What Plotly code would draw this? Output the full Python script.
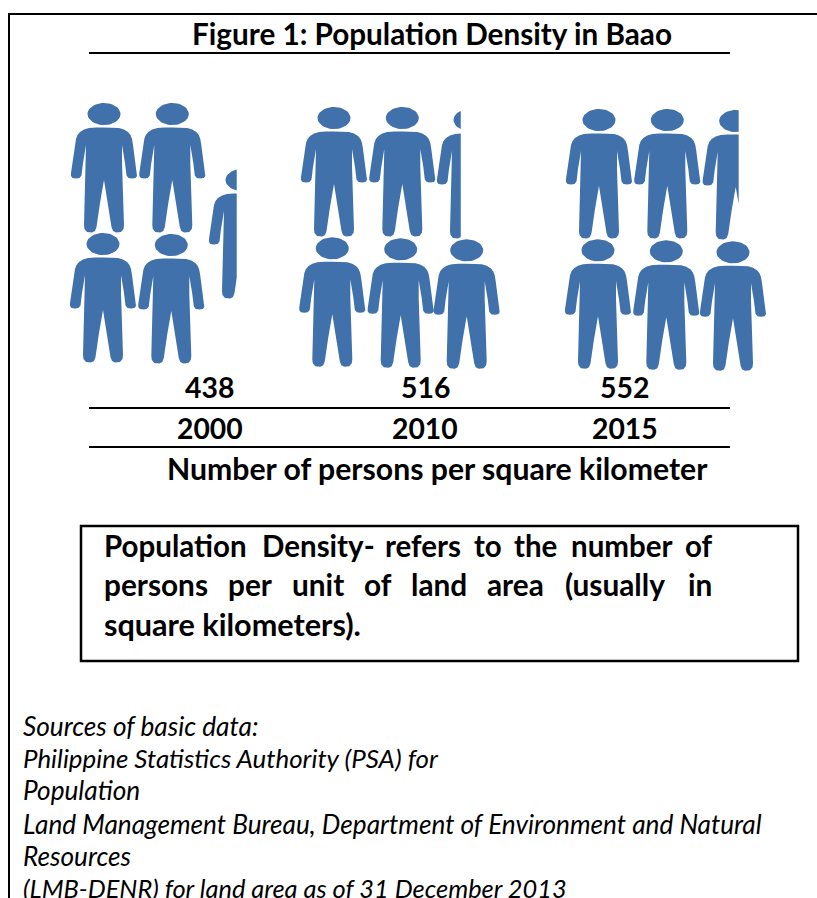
import math
import plotly.graph_objects as go

# ---- data ----
years = ["2000", "2010", "2015"]
density = [438, 516, 552]
partial_visible = [0.42, 0.36, 0.545]   # visible share of the last, cut-off figure
persons_per_figure = 100

title = "Figure 1: Population Density in Baao"
subtitle = "Number of persons per square kilometer"
box_line1 = ["Population", "Density-", "refers", "to", "the", "number", "of"]
box_line2 = ["persons", "per", "unit", "of", "land", "area", "(usually", "in"]
box_line3 = "square kilometers)."
sources = [
    "Sources of basic data:",
    "Philippine Statistics Authority (PSA) for",
    "Population",
    "Land Management Bureau, Department of Environment and Natural",
    "Resources",
    "(LMB-DENR) for land area as of 31 December 2013",
]

# ---- style and layout ----
W, H = 817, 898
BLUE = "#4071AB"
FONT = "Lato"

# outline of one figure: half body as (offset from centre, height), 66 x 129 px
half_body = [(0, 24.5), (8, 24.5), (15, 25), (20, 26.5), (24, 29), (26.5, 32), (28, 36), (29, 42),
             (31, 56), (33, 70), (33, 73), (31.5, 75), (28, 75.5), (24.5, 75), (22.5, 72.5), (21, 60),
             (18, 42), (18, 60), (19.5, 100), (20, 122), (19.5, 126), (17, 129), (12, 129.5),
             (9, 128), (7.5, 124), (4, 100), (0, 77)]
GW = 66
body = [(33 + a, b) for a, b in half_body] + [(33 - a, b) for a, b in reversed(half_body[1:-1])]
head = [(33 + 16.5 * math.cos(t * math.pi / 24), 11 + 11 * math.sin(t * math.pi / 24)) for t in range(48)]


def clip_right(poly, xmax):
    out = []
    for i, p in enumerate(poly):
        q = poly[(i + 1) % len(poly)]
        if p[0] <= xmax:
            out.append(p)
        if (p[0] <= xmax) != (q[0] <= xmax):
            f = (xmax - p[0]) / (q[0] - p[0])
            out.append((xmax, p[1] + f * (q[1] - p[1])))
    return out


# slots of each group: full figures first, last slot is the cut-off figure
slots = [
    [(70, 233), (138.3, 234), (71, 103), (139.3, 103), (209, 169)],
    [(299.3, 237.3), (367.7, 238.3), (433.7, 239.3), (301, 107), (369.3, 107), (437, 109)],
    [(565, 239.3), (633.3, 240.3), (700, 241.3), (566, 109), (634.3, 109), (702.7, 110)],
]

fig = go.Figure()
for year, value, share, group in zip(years, density, partial_visible, slots):
    full = value // persons_per_figure
    xs, ys = [], []
    for i, (left, top) in enumerate(group[:full + 1]):
        frac = 1.0 if i < full else share
        for part in (head, body):
            pts = clip_right(part, GW * frac) if frac < 1 else part
            if pts:
                xs += [left + x for x, _ in pts] + [left + pts[0][0], None]
                ys += [top + y for _, y in pts] + [top + pts[0][1], None]
    fig.add_trace(go.Scatter(x=xs, y=ys, mode="lines", fill="toself", fillcolor=BLUE,
                             line=dict(width=0, color=BLUE), name=year, hoverinfo="skip",
                             showlegend=False))

annotations = []


def text(x, y, s, size, bold=True, italic=False, anchor="center"):
    if bold:
        s = f"<b>{s}</b>"
    if italic:
        s = f"<i>{s}</i>"
    annotations.append(dict(x=x, y=y, xref="x", yref="y", text=s, showarrow=False, xanchor=anchor,
                            yanchor="middle", align=anchor, borderpad=0,
                            font=dict(family=FONT, size=size, color="#000000")))


text(431.5, 33.5, title, 29.7)
for cx, val in zip([209, 425, 624], density):
    text(cx, 386.5, str(val), 28.4)
for cx, yr in zip([210, 425, 624.5], years):
    text(cx, 427.5, yr, 28.3)
text(437.5, 467.5, subtitle, 30.2)

for x, w in zip([103, 261, 384, 473, 513, 570, 684], box_line1):
    text(x, 545.5, w, 29.5, anchor="left")
for x, w in zip([103, 227, 291, 363, 410, 486, 564, 687], box_line2):
    text(x, 584.5, w, 29.8, anchor="left")
text(103, 624.5, box_line3, 30.6, anchor="left")

for y, s, size in zip([725.5, 757.5, 789.5, 823.5, 855.5, 887.5], sources, [26.2, 25.9, 26.2, 26.2, 26.2, 25.4]):
    text(22, y, s, size, bold=False, italic=True, anchor="left")

shapes = [
    dict(type="line", x0=9, x1=9, y0=14, y1=H, line=dict(color="black", width=2)),
    dict(type="line", x0=8, x1=W, y0=14, y1=14, line=dict(color="black", width=2)),
    dict(type="line", x0=89, x1=730, y0=53, y1=53, line=dict(color="black", width=2)),
    dict(type="line", x0=89, x1=730, y0=408, y1=408, line=dict(color="black", width=2)),
    dict(type="line", x0=89, x1=730, y0=447, y1=447, line=dict(color="black", width=2)),
    dict(type="rect", x0=81, x1=798, y0=526, y1=661, line=dict(color="black", width=2.5)),
]

fig.update_layout(
    width=W, height=H, autosize=False, margin=dict(l=0, r=0, t=0, b=0),
    paper_bgcolor="white", plot_bgcolor="white", showlegend=False,
    xaxis=dict(range=[0, W], visible=False, fixedrange=True),
    yaxis=dict(range=[H, 0], visible=False, fixedrange=True),
    annotations=annotations, shapes=shapes,
)
fig.write_html("out.html", config={"displayModeBar": False},
               post_script="document.body.style.margin='0';document.body.style.overflow='hidden';")
